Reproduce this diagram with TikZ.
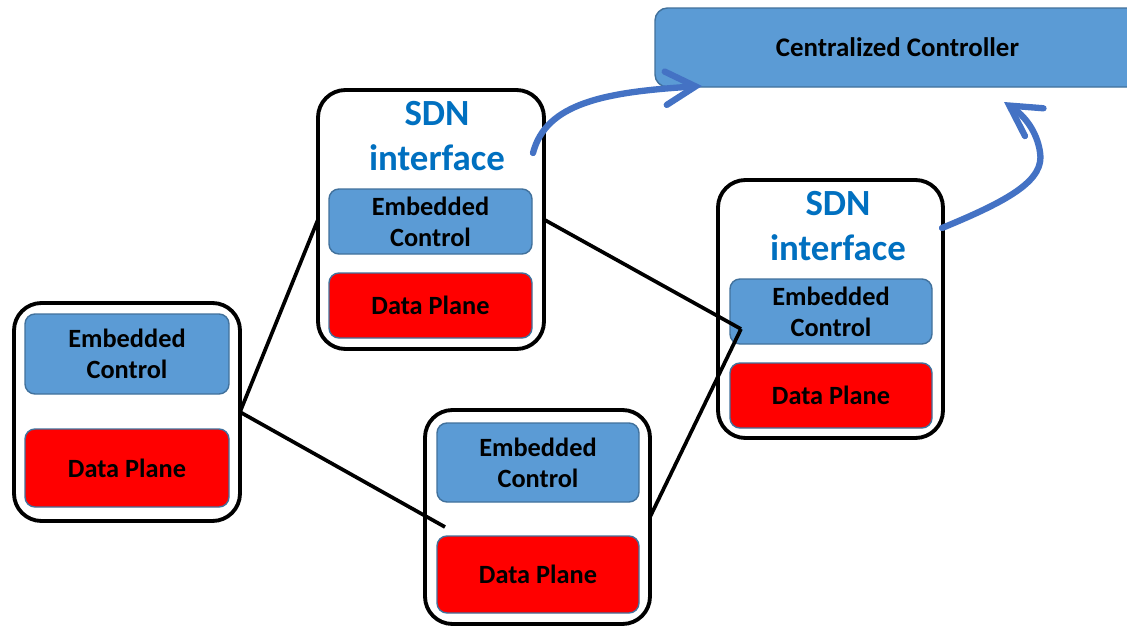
\documentclass[tikz,border=0pt]{standalone}
\usepackage{fontspec}
\setmainfont{Carlito}
\usetikzlibrary{arrows.meta}
\definecolor{ctlblue}{HTML}{5B9BD5}
\definecolor{ctlborder}{HTML}{41719C}
\definecolor{planered}{HTML}{FF0000}
\definecolor{arrowblue}{HTML}{4472C4}
\definecolor{sdnblue}{HTML}{0070C0}
\begin{document}
\begin{tikzpicture}[x=0.02cm,y=-0.02cm,
  size/.style 2 args={minimum width=#1*0.02cm, minimum height=#2*0.02cm},
  switchbox/.style={draw=black, line width=2.2pt, fill=white, rounded corners=0.55cm, inner sep=0pt, outer sep=0pt},
  ctrlbox/.style={draw=ctlborder, line width=0.8pt, fill=ctlblue, rounded corners=0.2cm, inner sep=0pt, outer sep=0pt, align=center, font=\fontsize{15}{17.6}\selectfont\bfseries},
  databox/.style={ctrlbox, fill=planered},
  sdnlabel/.style={anchor=base, text=sdnblue, font=\fontsize{21}{24}\selectfont\bfseries},
  link/.style={draw=black, line width=2.1pt},
  ctrlarrow/.style={draw=arrowblue, line width=3.6pt, line cap=round, line join=round, -{Straight Barb[length=17pt, width=19pt, line cap=round]}}]
\clip (0,0) rectangle (1127,626);
\fill[white] (0,0) rectangle (1127,626);

% centralized controller
\node[ctrlbox, size={485}{79}, rounded corners=0.25cm, font=\fontsize{15.3}{18}\selectfont\bfseries] (ctrl) at (897.5,47.5) {Centralized Controller};

% switch boxes
\node[switchbox, size={226}{218}] (A) at (127,412) {};
\node[switchbox, size={226}{259}] (B) at (431,219.5) {};
\node[switchbox, size={225}{214}] (C) at (537.5,517) {};
\node[switchbox, size={225}{258}] (D) at (830.5,309) {};

% inner panels
\node[ctrlbox, size={204}{80}] (Actl) at (127,354) {Embedded\\Control};
\node[databox, size={204}{78}] (Adata) at (127,468) {Data Plane};
\node[ctrlbox, size={203}{65}] (Bctl) at (430.5,221.5) {Embedded\\Control};
\node[databox, size={203}{65}] (Bdata) at (430.5,305.5) {Data Plane};
\node[ctrlbox, size={202}{79}] (Cctl) at (538,462.5) {Embedded\\Control};
\node[databox, size={202}{77}] (Cdata) at (538,574.5) {Data Plane};
\node[ctrlbox, size={202}{65}] (Dctl) at (831,311.5) {Embedded\\Control};
\node[databox, size={202}{65}] (Ddata) at (831,395.5) {Data Plane};

% SDN interface labels
\node[sdnlabel] (Bsdn1) at (437,125) {SDN};
\node[sdnlabel] (Bsdn2) at (437,170) {interface};
\node[sdnlabel] (Dsdn1) at (838,215) {SDN};
\node[sdnlabel] (Dsdn2) at (838,260) {interface};

% links
\coordinate (cEnd) at (445,527);
\coordinate (dMeet) at (741,329);
\draw[link] (A.east) -- (B.west);
\draw[link] (A.east) -- (cEnd);
\draw[link] (B.east) -- (dMeet);
\draw[link] (C.east) -- (dMeet);

% arrows to controller
\coordinate (a1s) at (533,153);
\coordinate (a1e) at (702,86);
\coordinate (a2s) at (942,228);
\coordinate (a2m) at (1040,152);
\coordinate (a2e) at (1004,102);
\draw[ctrlarrow] (a1s) .. controls (546,103) and (605,92) .. (a1e);
\draw[ctrlarrow] (a2s) .. controls (1010,200) and (1045,180) .. (a2m) .. controls (1037,132) and (1025,116) .. (a2e);
\end{tikzpicture}
\end{document}
